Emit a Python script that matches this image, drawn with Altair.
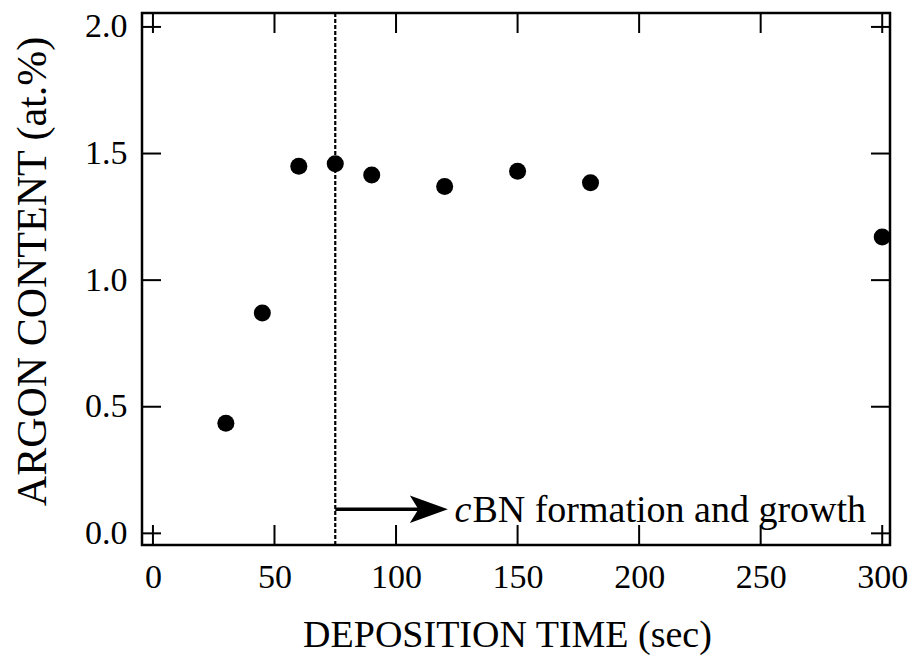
import altair as alt
import pandas as pd

# data
time_sec = [30, 45, 60, 75, 90, 120, 150, 180, 300]
argon_at_pct = [0.435, 0.87, 1.45, 1.46, 1.415, 1.37, 1.43, 1.385, 1.17]

x_ticks = [0, 50, 100, 150, 200, 250, 300]
y_ticks = [0.0, 0.5, 1.0, 1.5, 2.0]

onset_time = 75
arrow_y = 0.095
arrow_head_center = 113.5
label_x = 124.0
label_y = 0.045
label_italic = "c"
label_rest = "BN formation and growth"

FONT = "Liberation Serif"
W, H = 748, 532

xscale = alt.Scale(domain=[-4.5, 303.2], nice=False, zero=False)
yscale = alt.Scale(domain=[-0.046, 2.055], nice=False, zero=False)

df = pd.DataFrame({"t": time_sec, "ar": argon_at_pct})
dx = pd.DataFrame({"v": x_ticks})
dy = pd.DataFrame({"v": y_ticks})

points = alt.Chart(df).mark_point(filled=True, shape="circle", size=290, color="black", opacity=1).encode(
    x=alt.X("t:Q", scale=xscale,
            axis=alt.Axis(values=x_ticks, title="DEPOSITION TIME (sec)", format="d",
                          titleX=365, titleY=101, titleBaseline="alphabetic", titleAlign="center",
                          titleFontSize=38)),
    y=alt.Y("ar:Q", scale=yscale,
            axis=alt.Axis(values=y_ticks, title="ARGON CONTENT (at.%)", format=".1f",
                          titleX=-97, titleY=258, titleAngle=270, titleBaseline="alphabetic",
                          titleAlign="center", titleFontSize=42)),
)

xt_bottom = alt.Chart(dx).mark_rule(color="black", strokeWidth=2).encode(
    x=alt.X("v:Q", scale=xscale), y=alt.value(H), y2=alt.value(H - 20))
xt_top = alt.Chart(dx).mark_rule(color="black", strokeWidth=2).encode(
    x=alt.X("v:Q", scale=xscale), y=alt.value(0), y2=alt.value(20))
yt_left = alt.Chart(dy).mark_rule(color="black", strokeWidth=2).encode(
    y=alt.Y("v:Q", scale=yscale), x=alt.value(0), x2=alt.value(19))
yt_right = alt.Chart(dy).mark_rule(color="black", strokeWidth=2).encode(
    y=alt.Y("v:Q", scale=yscale), x=alt.value(W), x2=alt.value(W - 19))

vline = alt.Chart(pd.DataFrame({"t": [onset_time]})).mark_rule(
    color="black", strokeWidth=2.2, strokeDash=[4, 2]).encode(
    x=alt.X("t:Q", scale=xscale), y=alt.value(0), y2=alt.value(H))

arrow_df = pd.DataFrame({"x1": [onset_time], "x2": [arrow_head_center], "y": [arrow_y]})
arrow_line = alt.Chart(arrow_df).mark_rule(color="black", strokeWidth=3.5).encode(
    x=alt.X("x1:Q", scale=xscale), x2="x2:Q",
    y=alt.Y("y:Q", scale=yscale))
arrow_head = alt.Chart(pd.DataFrame({"x": [arrow_head_center], "y": [arrow_y]})).mark_point(
    filled=True, opacity=1, color="black", size=1444,
    shape="M -1 -0.72 L 1 0 L -1 0.72 L -0.55 0 Z").encode(
    x=alt.X("x:Q", scale=xscale), y=alt.Y("y:Q", scale=yscale))

lab_df = pd.DataFrame({"x": [label_x], "y": [label_y], "a": [label_italic], "b": [label_rest]})
lab_c = alt.Chart(lab_df).mark_text(font=FONT, fontSize=38, fontStyle="italic", align="left",
                                    baseline="alphabetic", color="black").encode(
    x=alt.X("x:Q", scale=xscale), y=alt.Y("y:Q", scale=yscale), text="a:N")
lab_rest = alt.Chart(lab_df).mark_text(font=FONT, fontSize=38, align="left", dx=18,
                                       baseline="alphabetic", color="black").encode(
    x=alt.X("x:Q", scale=xscale), y=alt.Y("y:Q", scale=yscale), text="b:N")

chart = alt.layer(
    points, vline, arrow_line, arrow_head, lab_c, lab_rest,
    xt_bottom, xt_top, yt_left, yt_right
).properties(
    width=W, height=H,
    background="white",
    autosize=alt.AutoSizeParams(type="none"),
    padding={"left": 134, "top": 5, "right": 20, "bottom": 110},
).configure_view(
    stroke="black", strokeWidth=2.5
).configure_axis(
    domain=False, ticks=False, tickSize=0, grid=False,
    labelFont=FONT, labelFontSize=34, labelColor="black", labelPadding=15,
    titleFont=FONT, titleFontWeight="normal", titleColor="black",
    labelFlush=False, labelOverlap=False,
)

chart.save("out.html", embed_options={"renderer": "svg", "actions": False})
